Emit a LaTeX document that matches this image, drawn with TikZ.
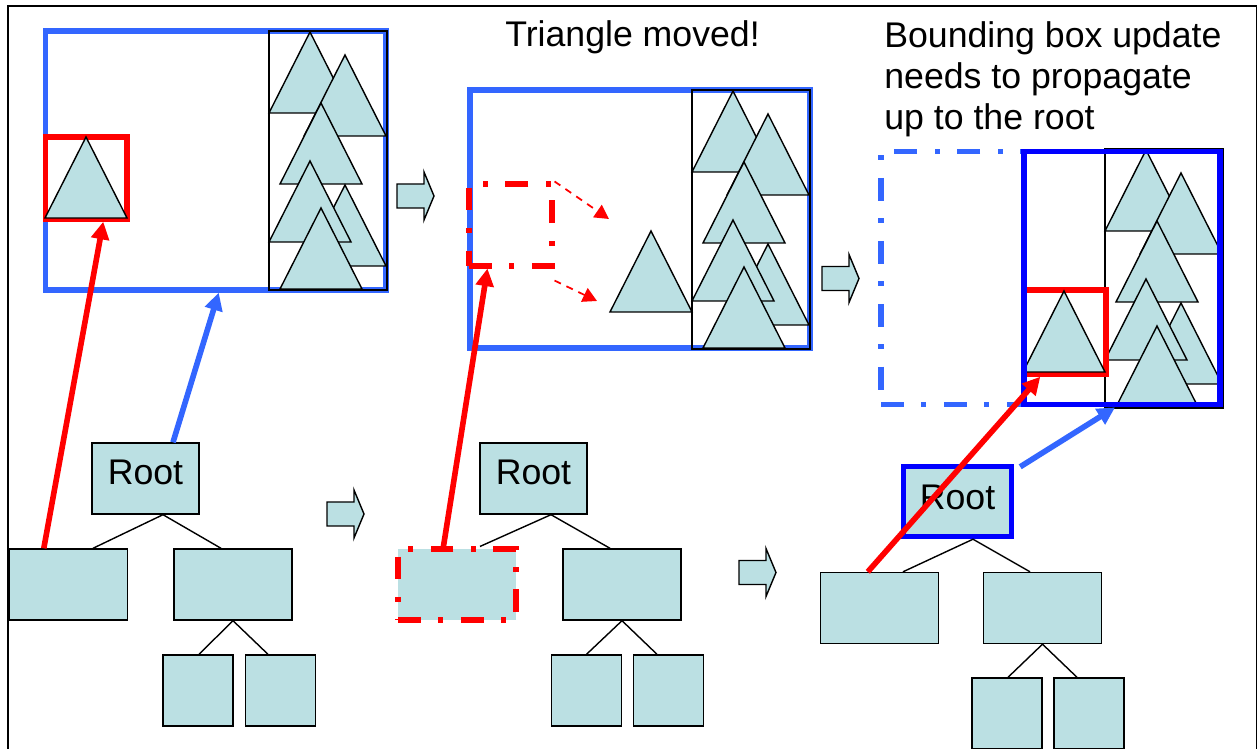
\documentclass[tikz,border=0pt]{standalone}
\usepackage{fontspec}
\setmainfont{Liberation Sans}
\usetikzlibrary{arrows.meta}

\definecolor{treefill}{HTML}{BBE0E3}
\definecolor{bvhblue}{HTML}{3366FF}

% one triangle, apex at (#1,#2)
\newcommand{\tri}[2]{\draw[tri] (#1,#2) -- ++(-41,81) -- ++(82,0) -- cycle;}
% the packed group of triangles with its box
\newcommand{\trigroup}[2]{%
  \begin{scope}[shift={(#1,#2)}]
    \tri{310}{32} \tri{345}{55} \tri{321}{103} \tri{345}{185} \tri{310}{161} \tri{321}{208}
    \draw[line width=0.8pt] (269,31) rectangle (387,290);
  \end{scope}}
% block arrow between the steps, left end at (#1,#2)
\newcommand{\steparrow}[2]{%
  \draw[line width=0.8pt, fill=treefill] (#1,#2) ++(0,-12) -- ++(27,0) -- ++(0,-12) -- ++(10,24)
    -- ++(-10,24) -- ++(0,-12) -- ++(-27,0) -- cycle;}

\begin{document}
\begin{tikzpicture}[x=0.02cm, y=-0.02cm, font=\fontsize{20.3}{23.5}\selectfont,
    tri/.style={draw, line width=0.8pt, fill=treefill, line join=miter},
    treebox/.style={draw, line width=0.8pt, fill=treefill, inner sep=0pt, minimum height=1.42cm, text depth=7pt},
    rootbox/.style={treebox, minimum width=2.14cm},
    widebox/.style={treebox, minimum width=2.36cm},
    smallbox/.style={treebox, minimum width=1.4cm},
    treeline/.style={line width=0.8pt},
    bvbox/.style={draw=bvhblue, line width=3.1pt, inner sep=0pt},
    hitbox/.style={draw=red, line width=3.1pt, inner sep=0pt},
    dashdot/.style={dash pattern=on 13pt off 10pt on 2.8pt off 10pt},
    hitred/.style={draw=red, line width=3.2pt, -{Triangle[length=10pt,width=10pt]}},
    hitblue/.style={draw=bvhblue, line width=3.2pt, -{Triangle[length=10pt,width=10pt]}},
    moveline/.style={draw=red, line width=1pt, dash pattern=on 4pt off 3.5pt, -{Triangle[length=8pt,width=8.5pt]}}]
  \useasboundingbox (0,0) rectangle (1258,749);
  \draw[line width=0.8pt] (8,749) -- (8,6) -- (1256.5,6) -- (1256.5,749);

  % --- before the move ---
  \node[bvbox, minimum width=6.81cm, minimum height=5.18cm] (box1) at (215.75,160.5) {};
  \trigroup{0}{0}
  \node[hitbox, minimum width=1.63cm, minimum height=1.64cm] (red1) at (86.25,178) {};
  \tri{86}{137}

  \node[rootbox] (root1) at (145.5,478.5) {Root};
  \node[widebox] (leaf1a) at (68.5,584.5) {};
  \node[widebox] (leaf1b) at (233,584.5) {};
  \node[smallbox] (leaf1c) at (198,690.5) {};
  \node[smallbox] (leaf1d) at (280.5,690.5) {};
  \draw[treeline] ([xshift=0.49cm]leaf1a.north) -- ([xshift=0.35cm]root1.south) -- ([xshift=-0.24cm]leaf1b.north);
  \draw[treeline] ([xshift=0.02cm]leaf1c.north) -- (leaf1b.south) -- ([xshift=-0.25cm]leaf1d.north);

  \steparrow{397}{196}
  \steparrow{327}{514}

  % --- triangle moved ---
  \node[anchor=base west, inner sep=0pt] (movedtxt) at (505,47) {Triangle moved!};
  \node[bvbox, minimum width=6.8cm, minimum height=5.16cm] (box2) at (640,219) {};
  \trigroup{423}{59}
  \tri{651}{231}
  \node[hitbox, dashdot, line width=2.9pt, minimum width=1.66cm, minimum height=1.64cm] (red2) at (510.5,225) {};
  \coordinate (mv1) at (609,219);
  \coordinate (mv2) at (597,301);
  \draw[moveline] (red2.north east) -- (mv1);
  \draw[moveline] ([yshift=-0.24cm]red2.south east) -- (mv2);

  \node[rootbox] (root2) at (533.5,478.5) {Root};
  \node[widebox, draw=red, line width=2.9pt, dashdot] (leaf2a) at (457,584.5) {};
  \node[widebox] (leaf2b) at (622,584.5) {};
  \node[smallbox] (leaf2c) at (586.5,690.5) {};
  \node[smallbox] (leaf2d) at (668.5,690.5) {};
  \draw[treeline] ([xshift=0.46cm]leaf2a.north) -- ([xshift=0.35cm]root2.south) -- ([xshift=-0.24cm]leaf2b.north);
  \draw[treeline] (leaf2c.north) -- (leaf2b.south) -- ([xshift=-0.23cm]leaf2d.north);

  \steparrow{822}{278.5}
  \steparrow{739}{572.5}

  % --- bounding box update ---
  \node[anchor=north west, inner sep=0pt, align=left] (updtxt) at (884,21)
    {Bounding box update\\needs to propagate\\up to the root};
  \node[bvbox, dashdot, minimum width=2.86cm, minimum height=5.07cm] (old3) at (952.5,278) {};
  \trigroup{836}{118}
  \node[hitbox, minimum width=1.64cm, minimum height=1.68cm] (red3) at (1065,332) {};
  \tri{1064}{291}
  \node[bvbox, draw=blue, minimum width=3.92cm, minimum height=5.07cm] (box3) at (1122,278) {};

  \node[treebox, draw=blue, line width=3.1pt, text depth=4.7pt, minimum width=2.16cm, minimum height=1.4cm] (root3) at (957.5,501.5) {Root};
  \node[widebox] (leaf3a) at (879.5,608) {};
  \node[widebox] (leaf3b) at (1042.5,608) {};
  \node[smallbox] (leaf3c) at (1007,713.5) {};
  \node[smallbox] (leaf3d) at (1089,713.5) {};
  \draw[treeline] ([xshift=0.47cm]leaf3a.north) -- ([xshift=0.31cm]root3.south) -- ([xshift=-0.25cm]leaf3b.north);
  \draw[treeline] ([xshift=0.02cm]leaf3c.north) -- (leaf3b.south) -- ([xshift=-0.24cm]leaf3d.north);

  % pointers from tree nodes to their boxes
  \draw[hitred] ([xshift=0.7cm]leaf1a.north west) -- ([xshift=0.34cm]red1.south);
  \draw[hitblue] ([xshift=0.55cm]root1.north) -- ([xshift=0.06cm]box1.south);
  \draw[hitred] ([xshift=0.96cm]leaf2a.north west) -- ([xshift=0.42cm]red2.south west);
  \draw[hitred] ([xshift=0.96cm]leaf3a.north west) -- ([xshift=0.38cm]red3.south west);
  \draw[hitblue] ([xshift=0.12cm,yshift=-0.06cm]root3.north east) -- ([xshift=-0.14cm]box3.south);
\end{tikzpicture}
\end{document}
